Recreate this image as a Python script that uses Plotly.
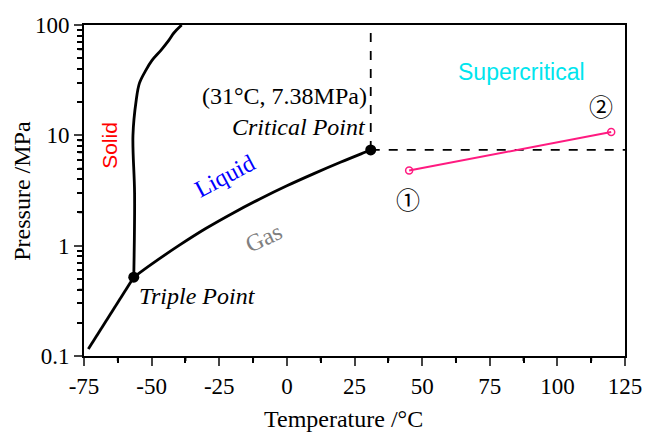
import math
import plotly.graph_objects as go

# Phase boundaries (Temperature °C, Pressure MPa)
melt_T = [-56.6, -56.3, -56.9, -55.7, -54.5, -52.1, -49.8, -46.5, -43.6, -41.8, -38.9]
melt_P = [0.518, 2.97, 10.0, 20.8, 29.7, 39.0, 48.0, 59.3, 73.0, 84.6, 100.0]

sub_T = [-73.4, -65.0, -56.6]
sub_P = [0.116, 0.245, 0.518]

vap_T = [-56.6, -50, -40, -30, -20, -10, 0, 10, 20, 30, 31.0]
vap_P = [0.518, 0.68, 1.0, 1.43, 1.97, 2.65, 3.49, 4.50, 5.73, 7.21, 7.38]

triple_T, triple_P = -56.6, 0.518
crit_T, crit_P = 31.0, 7.38

proc_T = [45.2, 119.9]
proc_P = [4.81, 10.7]

x_ticks = [-75, -50, -25]
x_ticklabels = ["-75", "-50", "-25"]
x_minor = [-62.5, -37.5, -12.5, 12.5, 37.5, 62.5, 87.5, 112.5]
y_minor = [0.2, 0.3, 0.4, 0.5, 0.6, 0.7, 0.8, 0.9,
           2, 3, 4, 5, 6, 7, 8, 9,
           20, 30, 40, 50, 60, 70, 80, 90]

SERIF = "Liberation Serif"
SANS = "Liberation Sans"
L = math.log10

fig = go.Figure()
line_style = dict(color="black", width=2.8)
fig.add_trace(go.Scatter(x=melt_T, y=melt_P, mode="lines", line=dict(line_style, shape="spline"), showlegend=False))
fig.add_trace(go.Scatter(x=sub_T, y=sub_P, mode="lines", line=line_style, showlegend=False))
fig.add_trace(go.Scatter(x=vap_T, y=vap_P, mode="lines", line=dict(line_style, shape="spline"), showlegend=False))
# dashed critical lines
fig.add_trace(go.Scatter(x=[crit_T, crit_T], y=[crit_P, 100], mode="lines",
                         line=dict(color="black", width=1.8, dash="dash"), showlegend=False))
fig.add_trace(go.Scatter(x=[crit_T, 125], y=[crit_P, crit_P], mode="lines",
                         line=dict(color="black", width=1.8, dash="dash"), showlegend=False))
# points
fig.add_trace(go.Scatter(x=[triple_T, crit_T], y=[triple_P, crit_P], mode="markers",
                         marker=dict(color="black", size=11), showlegend=False))
# process line
fig.add_trace(go.Scatter(x=proc_T, y=proc_P, mode="lines+markers",
                         line=dict(color="#ff1a80", width=2),
                         marker=dict(symbol="circle-open", size=7, color="#ff1a80", line=dict(width=1.5)),
                         showlegend=False))

# fallback minor tick marks (outside) drawn as headless arrows on the axes' scales
MINOR_LEN = 6
tiny = dict(size=1, color="rgba(0,0,0,0)")
for v in x_minor:
    fig.add_annotation(x=v, xref="x", y=0, yref="paper", text=" ", font=tiny, borderpad=0,
                       showarrow=True, ax=0, ay=MINOR_LEN, arrowhead=0, arrowwidth=2,
                       arrowcolor="black", standoff=0, startstandoff=0)
for v in y_minor:
    fig.add_annotation(x=0, xref="paper", y=L(v), yref="y", text=" ", font=tiny, borderpad=0,
                       showarrow=True, ax=-MINOR_LEN, ay=0, arrowhead=0, arrowwidth=1.5,
                       arrowcolor="black", standoff=0, startstandoff=0)

def ann(text, x, p, color="black", size=23, angle=0, xanchor="center", italic=False, family=SERIF):
    if italic:
        text = "<i>" + text + "</i>"
    fig.add_annotation(x=x, y=L(p), text=text, showarrow=False, textangle=angle,
                       xanchor=xanchor, yanchor="middle",
                       font=dict(family=family, size=size, color=color))

ann("Solid", -65.6, 8.1, color="#ff0000", angle=-90, family=SANS, size=21)
ann("Liquid", -22.9, 4.24, color="#0000ff", angle=-28, size=24)
ann("Gas", -8.7, 1.18, color="#808080", angle=-25, size=24)
ann("Supercritical", 86.8, 37.4, color="#00e5ee", family=SANS, size=23)
ann("(31°C, 7.38MPa)", 30.4, 22.6, xanchor="right", size=24)
ann("Critical Point", 30.0, 11.8, xanchor="right", italic=True, size=24)
ann("Triple Point", -55.5, 0.351, xanchor="left", italic=True, size=24)
ann("①", 44.7, 2.67, size=24, family="Noto Sans CJK JP")
ann("②", 116.3, 18.7, size=24, family="Noto Sans CJK JP")

# axis titles
fig.add_annotation(xref="paper", yref="paper", x=0.48, y=-0.19, text="Temperature /°C",
                   showarrow=False, xanchor="center", yanchor="middle",
                   font=dict(family=SERIF, size=24, color="black"))
fig.add_annotation(xref="paper", yref="paper", x=-0.116, y=0.5, text="Pressure /MPa", textangle=-90,
                   showarrow=False, xanchor="center", yanchor="middle",
                   font=dict(family=SERIF, size=24, color="black"))

# replace unicode minus with plain hyphen in tick labels
alias = {"\u2212" + t[1:]: t for t in x_ticklabels}

fig.update_layout(
    width=654, height=432, margin=dict(l=84, r=20, t=25, b=76),
    plot_bgcolor="white", paper_bgcolor="white",
    xaxis=dict(range=[-75, 125], tickmode="linear", tick0=-75, dtick=25, labelalias=alias,
               ticks="outside", ticklen=8, tickwidth=2,
               minor=dict(ticks="outside", ticklen=5, tickwidth=2, tickcolor="black",
                          tickmode="linear", tick0=-75, dtick=12.5, showgrid=False),
               showline=True, linecolor="black", linewidth=2, mirror=True, showgrid=False, zeroline=False,
               tickfont=dict(family=SERIF, size=23, color="black")),
    yaxis=dict(type="log", range=[-1, 2], tickmode="linear", tick0=0, dtick=1,
               ticks="outside", ticklen=8, tickwidth=2,
               minor=dict(ticks="outside", ticklen=5, tickwidth=1.5, tickcolor="black",
                          dtick="D1", showgrid=False),
               showline=True, linecolor="black", linewidth=2, mirror=True, showgrid=False, zeroline=False,
               tickfont=dict(family=SERIF, size=23, color="black")),
)
fig.write_html("out.html")
